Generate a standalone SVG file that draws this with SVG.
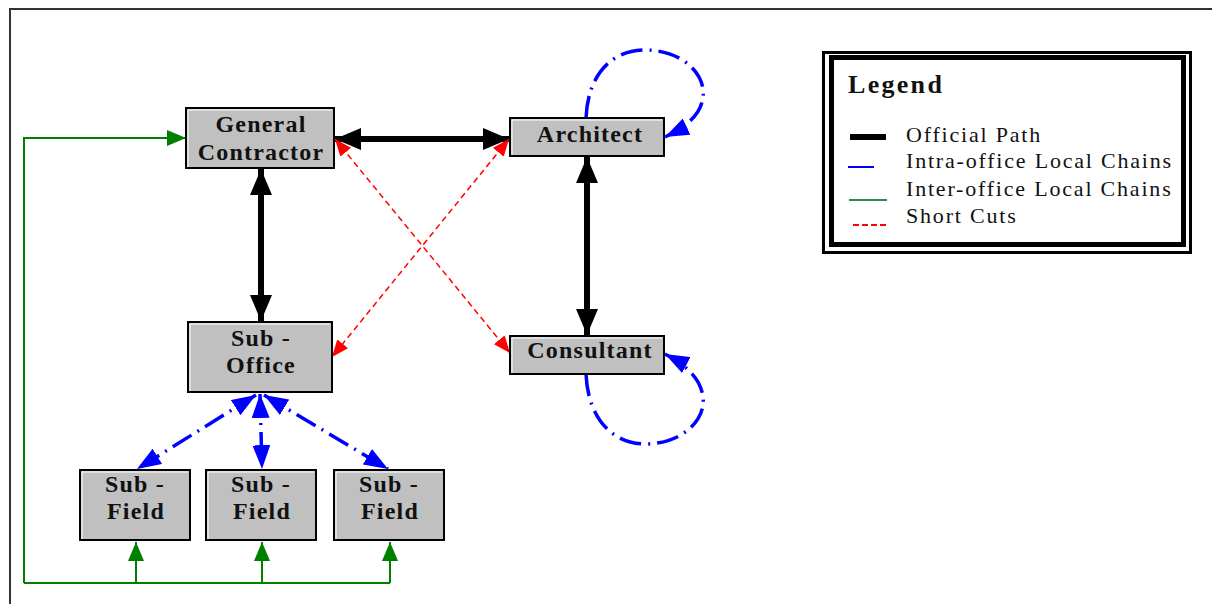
<svg xmlns="http://www.w3.org/2000/svg" width="1212" height="604" viewBox="0 0 1212 604">
  <style>
    .box { fill: #c0c0c0; stroke: #000; stroke-width: 2; }
    .hl { fill: none; stroke: #fff; stroke-width: 1; }
    .lbl { font-family: "Liberation Serif", "Times New Roman", serif; font-weight: bold; font-size: 24px; letter-spacing: 1.2px; fill: #111; text-anchor: middle; }
    .official { stroke: #000; stroke-width: 6; fill: none; }
    .intra { stroke: #0000ff; stroke-width: 3.5; fill: none; stroke-dasharray: 22 7 2 7; }
    .inter { stroke: #008000; stroke-width: 2; fill: none; }
    .short { stroke: #ff0000; stroke-width: 1.5; fill: none; stroke-dasharray: 6 4; }
    .legtitle { font-family: "Liberation Serif", "Times New Roman", serif; font-weight: bold; font-size: 26px; letter-spacing: 2.3px; fill: #111; }
    .legtxt { font-family: "Liberation Serif", "Times New Roman", serif; font-size: 22px; letter-spacing: 1.8px; fill: #111; }
  </style>
  <defs>
    <marker id="mBlack" markerUnits="userSpaceOnUse" markerWidth="28" markerHeight="22" refX="26" refY="11" orient="auto-start-reverse">
      <path d="M0,0 L26,11 L0,22 Z" fill="#000"/>
    </marker>
    <marker id="mRed" markerUnits="userSpaceOnUse" markerWidth="18" markerHeight="14" refX="17" refY="7" orient="auto-start-reverse">
      <path d="M0,0 L17,7 L0,14 Z" fill="#ff0000"/>
    </marker>
    <marker id="mBlue" markerUnits="userSpaceOnUse" markerWidth="25" markerHeight="18" refX="24" refY="9" orient="auto-start-reverse">
      <path d="M0,0 L24,9 L0,18 Z" fill="#0000ff"/>
    </marker>
    <marker id="mGreen" markerUnits="userSpaceOnUse" markerWidth="20" markerHeight="16" refX="19" refY="8" orient="auto">
      <path d="M0,0 L19,8 L0,16 Z" fill="#008000"/>
    </marker>
  </defs>

  <rect width="1212" height="604" fill="#fff"/>
  <!-- outer frame -->
  <rect x="10" y="9" width="1230" height="640" fill="none" stroke="#333" stroke-width="2"/>

  <!-- connectors -->
  <g id="connectors">
    <!-- official paths -->
    <line class="official" x1="335" y1="139" x2="509" y2="139" marker-start="url(#mBlack)" marker-end="url(#mBlack)"/>
    <line class="official" x1="261" y1="169" x2="261" y2="321" marker-start="url(#mBlack)" marker-end="url(#mBlack)"/>
    <line class="official" x1="587" y1="157" x2="587" y2="335" marker-start="url(#mBlack)" marker-end="url(#mBlack)"/>

    <!-- short cuts -->
    <line class="short" x1="335" y1="139" x2="510" y2="353" marker-start="url(#mRed)" marker-end="url(#mRed)"/>
    <line class="short" x1="509" y1="139" x2="332" y2="357" marker-start="url(#mRed)" marker-end="url(#mRed)"/>

    <!-- intra-office loops -->
    <path class="intra" d="M586,118 C588,72 614,50 645,50 C682,50 706,74 703,97 C701,114 688,126 665,137" marker-end="url(#mBlue)"/>
    <path class="intra" d="M586,374 C588,420 614,444 645,444 C682,444 706,420 703,397 C701,380 688,366 665,354" marker-end="url(#mBlue)"/>

    <!-- sub-office to sub-field -->
    <line class="intra" x1="256" y1="395" x2="137" y2="469" marker-start="url(#mBlue)" marker-end="url(#mBlue)"/>
    <line class="intra" x1="260" y1="394" x2="262" y2="469" marker-start="url(#mBlue)" marker-end="url(#mBlue)"/>
    <line class="intra" x1="264" y1="395" x2="388" y2="469" marker-start="url(#mBlue)" marker-end="url(#mBlue)"/>

    <!-- inter-office chains -->
    <polyline class="inter" points="24,583 24,138 186,138" marker-end="url(#mGreen)"/>
    <line class="inter" x1="24" y1="583" x2="390" y2="583"/>
    <line class="inter" x1="136" y1="583" x2="136" y2="542" marker-end="url(#mGreen)"/>
    <line class="inter" x1="262" y1="583" x2="262" y2="542" marker-end="url(#mGreen)"/>
    <line class="inter" x1="390" y1="583" x2="390" y2="542" marker-end="url(#mGreen)"/>
  </g>

  <!-- nodes -->
  <g id="general-contractor">
    <rect class="box" x="186" y="108" width="148" height="60"/>
    <polyline class="hl" points="188,167 188,110 332,110"/>
    <text class="lbl" x="261" y="132">General</text>
    <text class="lbl" x="261" y="160">Contractor</text>
  </g>
  <g id="architect">
    <rect class="box" x="510" y="118" width="154" height="38"/>
    <polyline class="hl" points="512,155 512,120 662,120"/>
    <text class="lbl" x="590" y="142">Architect</text>
  </g>
  <g id="consultant">
    <rect class="box" x="510" y="336" width="154" height="38"/>
    <polyline class="hl" points="512,373 512,338 662,338"/>
    <text class="lbl" x="590" y="358">Consultant</text>
  </g>
  <g id="sub-office">
    <rect class="box" x="188" y="322" width="144" height="70"/>
    <polyline class="hl" points="190,391 190,324 330,324"/>
    <text class="lbl" x="261" y="346">Sub -</text>
    <text class="lbl" x="261" y="373">Office</text>
  </g>
  <g id="sub-field-1">
    <rect class="box" x="80" y="470" width="110" height="70"/>
    <polyline class="hl" points="82,539 82,472 188,472"/>
    <text class="lbl" x="135" y="492">Sub -</text>
    <text class="lbl" x="136" y="519">Field</text>
  </g>
  <g id="sub-field-2">
    <rect class="box" x="206" y="470" width="110" height="70"/>
    <polyline class="hl" points="208,539 208,472 314,472"/>
    <text class="lbl" x="261" y="492">Sub -</text>
    <text class="lbl" x="262" y="519">Field</text>
  </g>
  <g id="sub-field-3">
    <rect class="box" x="334" y="470" width="110" height="70"/>
    <polyline class="hl" points="336,539 336,472 442,472"/>
    <text class="lbl" x="389" y="492">Sub -</text>
    <text class="lbl" x="390" y="519">Field</text>
  </g>

  <!-- legend -->
  <g id="legend">
    <rect x="823.5" y="52.5" width="367" height="200" fill="#fff" stroke="#000" stroke-width="3"/>
    <rect x="831.5" y="57.5" width="352" height="187" fill="none" stroke="#000" stroke-width="5"/>
    <text class="legtitle" x="848" y="93">Legend</text>
    <line x1="850" y1="137" x2="886" y2="137" stroke="#000" stroke-width="6"/>
    <line x1="848" y1="167" x2="874" y2="167" stroke="#0000ff" stroke-width="2"/>
    <line x1="849" y1="200" x2="887" y2="200" stroke="#2e8b57" stroke-width="2"/>
    <line x1="853" y1="225" x2="888" y2="225" stroke="#ff0000" stroke-width="2" stroke-dasharray="6 3"/>
    <text class="legtxt" x="906" y="142">Official Path</text>
    <text class="legtxt" x="906" y="168">Intra-office Local Chains</text>
    <text class="legtxt" x="906" y="196">Inter-office Local Chains</text>
    <text class="legtxt" x="906" y="223">Short Cuts</text>
  </g>
</svg>
